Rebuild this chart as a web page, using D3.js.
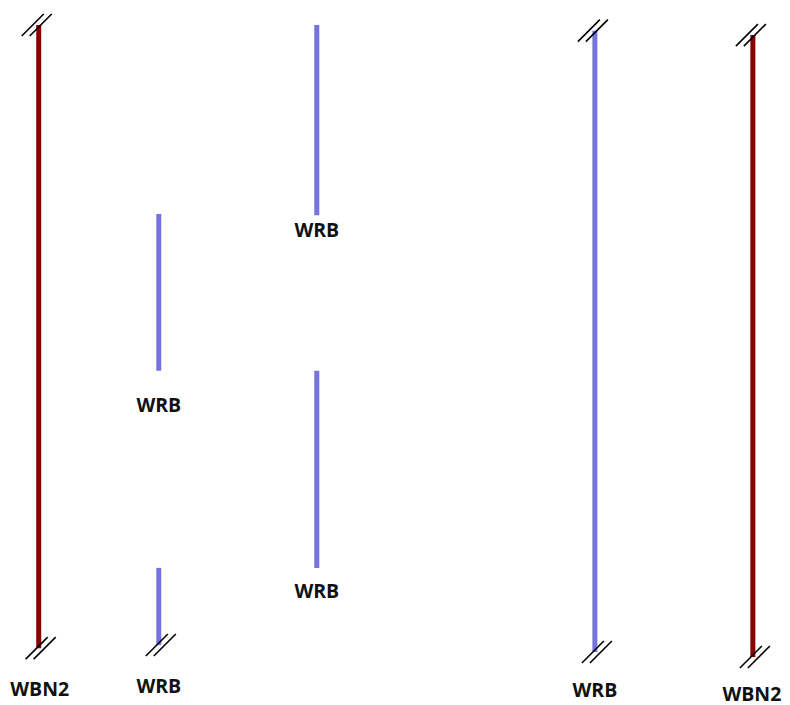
<!DOCTYPE html>
<head>
<meta charset="utf-8">
<script src="https://d3js.org/d3.v7.min.js"></script>
</head>
<style>
body { margin: 0; background: #fff; }
.seg { fill: none; stroke-width: 5px; stroke-linecap: butt; }
.brk { stroke: #000; stroke-width: 1.6px; }
.lbl { font-family: "Open Sans", sans-serif; font-weight: 700; font-size: 19.5px; fill: #111; }
</style>
<body>
<script>
// track columns (position across the sheet, 0-100)
var columns = [4.9, 20.1, 40.1, 75.3, 95.3];
// segments: column index, start, end (0-100 along the track), break at start/end
var segCol   = [0, 1, 1, 2, 2, 3, 4];
var segStart = [0, 29.9, 85.9, 0, 54.7, 0.9, 1.6];
var segEnd   = [98.6, 54.7, 98.1, 30.1, 85.9, 99.2, 100];
var segBrkTop = [true, false, false, false, false, true, true];
var segBrkBot = [true, false, true, false, false, true, true];
var segLabel  = [105.0, 60.1, 104.6, 32.4, 89.6, 105.2, 105.8];
var segName   = ["WBN2", "WRB", "WRB", "WRB", "WRB", "WRB", "WBN2"];
var colours = { WBN2: "#8b0000", WRB: "#7474dc" };

var width = 790, height = 705;
var x = d3.scaleLinear().domain([0, 100]).range([0, width]);
var y = d3.scaleLinear().domain([0, 100]).range([25, 657]);

var segs = segCol.map(function(c, i) {
  return { x: columns[c], y0: segStart[i], y1: segEnd[i], bt: segBrkTop[i], bb: segBrkBot[i], ly: segLabel[i], name: segName[i] };
});

var svg = d3.select("body").append("svg")
    .attr("width", width)
    .attr("height", height);

svg.selectAll(".seg").data(segs).enter().append("line")
    .attr("class", "seg")
    .attr("x1", function(d) { return x(d.x); })
    .attr("x2", function(d) { return x(d.x); })
    .attr("y1", function(d) { return y(d.y0); })
    .attr("y2", function(d) { return y(d.y1); })
    .attr("stroke", function(d) { return colours[d.name]; });

// break marks: two parallel slashes
function breakMark(cx, cy) {
  var g = svg.append("g").attr("transform", "translate(" + cx + "," + cy + ")");
  [-4, 4].forEach(function(o) {
    g.append("line").attr("class", "brk")
      .attr("x1", o - 11).attr("y1", 11)
      .attr("x2", o + 11).attr("y2", -11);
  });
}
segs.forEach(function(d) {
  if (d.bt) breakMark(x(d.x) - 2, y(d.y0));
  if (d.bb) breakMark(x(d.x) + 2, y(d.y1));
});

svg.selectAll(".lbl").data(segs).enter().append("text")
    .attr("class", "lbl")
    .attr("text-anchor", "middle")
    .attr("dy", "0.36em")
    .attr("x", function(d) { return x(d.x) + (d.name === "WBN2" ? (d.x > 50 ? -1 : 1) : 0); })
    .attr("y", function(d) { return y(d.ly); })
    .text(function(d) { return d.name; });
</script>
</body>
